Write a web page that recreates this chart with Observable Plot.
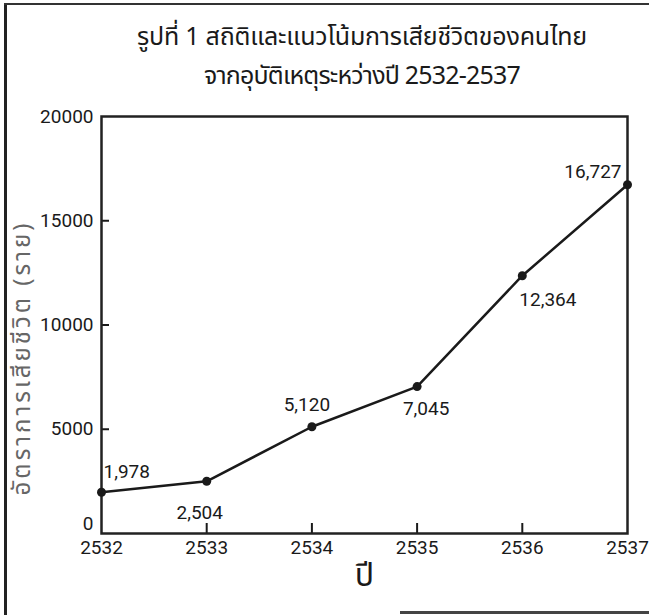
<!DOCTYPE html>
<html><head><meta charset="utf-8">
<script src="https://cdn.jsdelivr.net/npm/d3@7"></script>
<script src="https://cdn.jsdelivr.net/npm/@observablehq/plot@0.6"></script>
<style>
body{margin:0;background:#fff;}
#wrap{position:relative;width:649px;height:615px;overflow:hidden;background:#fff;
  font-family:"Noto Sans Thai","Loma","Garuda","Norasi","Tlwg Typo","Noto Sans","DejaVu Sans",sans-serif;color:#1a1a1a;}
.bl{position:absolute;left:4px;top:3px;width:3px;height:615px;background:#222;}
.bt{position:absolute;left:4px;top:3px;width:645px;height:2px;background:#333;}
.bb{position:absolute;left:400px;top:611px;width:249px;height:3px;background:#444;}
#title{position:absolute;left:75px;top:18px;width:574px;text-align:center;font-size:25px;line-height:39px;letter-spacing:-0.2px;}
#title div:nth-child(2){letter-spacing:-0.8px;}
#chart{position:absolute;left:0;top:96px;}
</style></head><body>
<div id="wrap">
<div class="bl"></div><div class="bt"></div><div class="bb"></div>
<div id="title"></div>
<div id="chart"></div>
</div>
<script>
const titleLines = ["รูปที่ 1 สถิติและแนวโน้มการเสียชีวิตของคนไทย", "จากอุบัติเหตุระหว่างปี 2532-2537"];
const years = [2532, 2533, 2534, 2535, 2536, 2537];
const deaths = [1978, 2504, 5120, 7045, 12364, 16727];
const deathLabels = ["1,978", "2,504", "5,120", "7,045", "12,364", "16,727"];
const yTicks = [0, 5000, 10000, 15000, 20000];
const xTicks = [2532, 2533, 2534, 2535, 2536, 2537];
const yLabel = "อัตราการเสียชีวิต (ราย)";
const xLabel = "ปี";

document.getElementById("title").innerHTML = titleLines.map(t => `<div>${t}</div>`).join("");

const data = years.map((yr, i) => ({year: yr, deaths: deaths[i], label: deathLabels[i], i}));
const numFont = `"Liberation Sans Narrow","Arial Narrow",Roboto,"Liberation Sans",sans-serif`;
const thaiFont = `"Noto Sans Thai","Loma","Garuda","Norasi","Tlwg Typo","Noto Sans","DejaVu Sans",sans-serif`;
const pick = idx => data.filter(d => idx.includes(d.i));

const chart = Plot.plot({
  width: 649, height: 519,
  marginLeft: 101, marginRight: 22, marginTop: 20, marginBottom: 82,
  style: {fontFamily: numFont, fontSize: "19px", color: "#1a1a1a", background: "transparent"},
  x: {domain: [2532, 2537], label: null},
  y: {domain: [0, 20000], label: null},
  marks: [
    Plot.axisY(yTicks.slice(1), {tickSize: 0, tickPadding: 8, fontSize: 19, tickFormat: d => String(d), label: null}),
    Plot.axisY(yTicks.slice(0, 1), {tickSize: 0, tickPadding: 8, dy: -10, fontSize: 19, tickFormat: d => String(d), label: null}),
    Plot.axisY(yTicks.slice(1, -1), {tickSize: 8, dx: 8, text: null, strokeWidth: 2, label: null}),
    Plot.axisX(xTicks, {tickSize: 0, tickPadding: 7, fontSize: 19, tickFormat: d => String(d), label: null}),
    Plot.axisX(xTicks.slice(1, -1), {tickSize: 10, dy: -10, text: null, strokeWidth: 2, label: null}),
    Plot.frame({stroke: "#222", strokeWidth: 2.5}),
    Plot.line(data, {x: "year", y: "deaths", stroke: "#1a1a1a", strokeWidth: 2.5}),
    Plot.dot(data, {x: "year", y: "deaths", r: 4.5, fill: "#1a1a1a"}),
    Plot.text(pick([0]), {x: "year", y: "deaths", text: "label", textAnchor: "start", dx: 2, dy: -20, fontSize: 19}),
    Plot.text(pick([1]), {x: "year", y: "deaths", text: "label", dx: -7, dy: 32, fontSize: 19}),
    Plot.text(pick([2]), {x: "year", y: "deaths", text: "label", dx: -5, dy: -22, fontSize: 19}),
    Plot.text(pick([3]), {x: "year", y: "deaths", text: "label", dx: 9, dy: 22, fontSize: 19}),
    Plot.text(pick([4]), {x: "year", y: "deaths", text: "label", textAnchor: "start", dx: -3, dy: 24, fontSize: 19}),
    Plot.text(pick([5]), {x: "year", y: "deaths", text: "label", textAnchor: "end", dx: -6, dy: -13, fontSize: 19}),
    Plot.text([yLabel], {frameAnchor: "left", textAnchor: "middle", rotate: -90, dx: -79, dy: 33, fontSize: 24, fontFamily: thaiFont, fill: "#666"}),
    Plot.text([xLabel], {frameAnchor: "bottom", dy: 52, fontSize: 32, fontFamily: thaiFont})
  ]
});
d3.select(chart).selectAll("text").filter(function() { return this.textContent === yLabel; })
  .style("letter-spacing", "3px");
document.getElementById("chart").appendChild(chart);
</script>
</body></html>
